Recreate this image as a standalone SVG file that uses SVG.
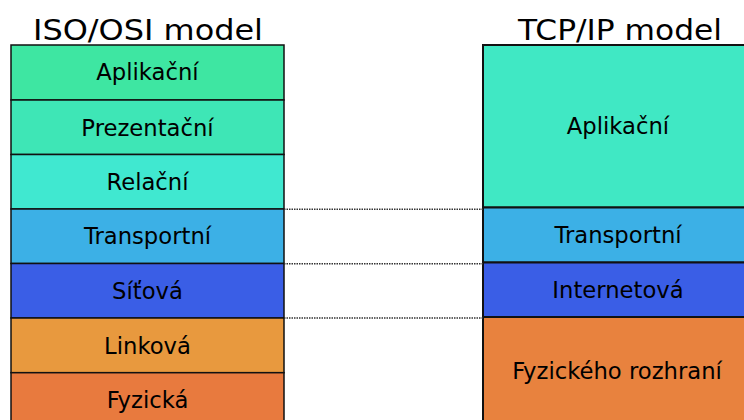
<svg xmlns="http://www.w3.org/2000/svg" width="744" height="420" viewBox="0 0 744 420">
<style>
.t{font-family:"DejaVu Sans",Verdana,sans-serif;font-size:28px;fill:#000;text-anchor:middle}
.l{font-family:"DejaVu Sans",Verdana,sans-serif;font-size:22.7px;fill:#000;text-anchor:middle}
.b{stroke:#111;stroke-width:1.5}
.r{stroke:#111;stroke-width:2}
.d{stroke:#333;stroke-width:1.6;stroke-dasharray:1.5 1}
</style>
<rect width="744" height="420" fill="#fff"/>
<text class="t" x="148" y="40" textLength="230" lengthAdjust="spacingAndGlyphs">ISO/OSI model</text>
<text class="t" x="620" y="40" textLength="204" lengthAdjust="spacingAndGlyphs">TCP/IP model</text>
<g id="osi-aplikacni"><rect class="b" x="11" y="45" width="273" height="55" fill="#3EE6A2"/><text class="l" x="147.5" y="80">Aplikační</text></g>
<g id="osi-prezentacni"><rect class="b" x="11" y="100" width="273" height="54.5" fill="#3EE6B6"/><text class="l" x="147.5" y="135.5">Prezentační</text></g>
<g id="osi-relacni"><rect class="b" x="11" y="154.5" width="273" height="54.5" fill="#40E8D0"/><text class="l" x="147.5" y="190">Relační</text></g>
<g id="osi-transportni"><rect class="b" x="11" y="209" width="273" height="54.5" fill="#3CB0E6"/><text class="l" x="147.5" y="244">Transportní</text></g>
<g id="osi-sitova"><rect class="b" x="11" y="263.5" width="273" height="54.5" fill="#3A5EE6"/><text class="l" x="147.5" y="299">Síťová</text></g>
<g id="osi-linkova"><rect class="b" x="11" y="318" width="273" height="54.7" fill="#E8993E"/><text class="l" x="147.5" y="354">Linková</text></g>
<g id="osi-fyzicka"><rect class="b" x="11" y="372.7" width="273" height="55" fill="#E87A3E"/><text class="l" x="147.5" y="408">Fyzická</text></g>
<g id="tcp-aplikacni"><rect class="r" x="483" y="45" width="280" height="162.5" fill="#40E8C4"/><text class="l" x="618" y="134">Aplikační</text></g>
<g id="tcp-transportni"><rect class="r" x="483" y="207.5" width="280" height="55" fill="#3CB0E6"/><text class="l" x="618" y="242.5">Transportní</text></g>
<g id="tcp-internetova"><rect class="r" x="483" y="262.5" width="280" height="54.5" fill="#3A5EE6"/><text class="l" x="618" y="298">Internetová</text></g>
<g id="tcp-fyzicke"><rect class="r" x="483" y="317" width="280" height="110" fill="#E8823E"/><text class="l" x="617" y="378.5">Fyzického rozhraní</text></g>
<g id="connectors">
<line class="d" x1="284" y1="209.3" x2="483" y2="209.3"/>
<line class="d" x1="284" y1="263.7" x2="483" y2="263.7"/>
<line class="d" x1="284" y1="318" x2="483" y2="318"/>
</g>
</svg>
